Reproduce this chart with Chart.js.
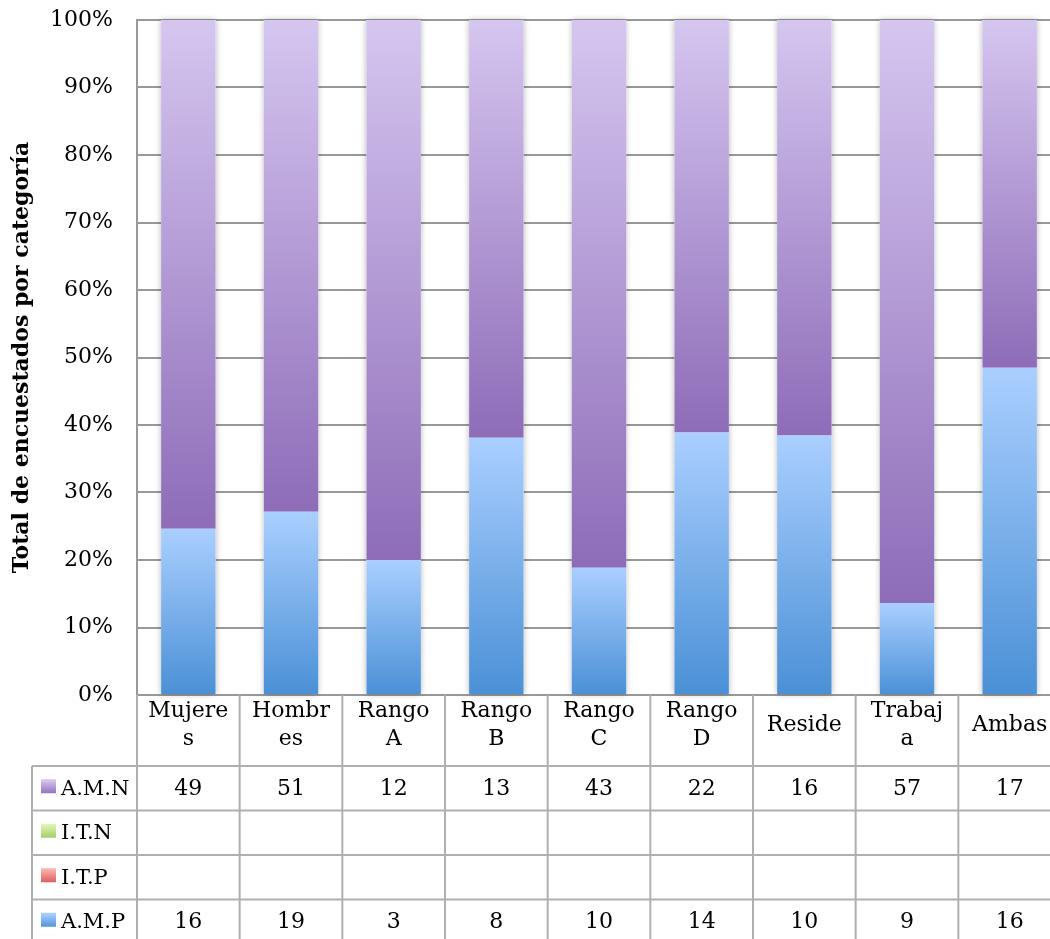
<!DOCTYPE html>
<html>
<head>
<meta charset="utf-8">
<script src="https://cdn.jsdelivr.net/npm/chart.js@4"></script>
<style>
html, body { margin: 0; padding: 0; background: #fff; overflow: hidden; }
canvas { display: block; }
</style>
</head>
<body>
<canvas id="myChart" width="1061" height="939"></canvas>
<script>
var categories = ["Mujeres", "Hombres", "Rango A", "Rango B", "Rango C", "Rango D", "Reside", "Trabaja", "Ambas"];
var tickLabels = [["Mujere", "s"], ["Hombr", "es"], ["Rango", "A"], ["Rango", "B"], ["Rango", "C"], ["Rango", "D"], ["Reside"], ["Trabaj", "a"], ["Ambas"]];
var amn = [49, 51, 12, 13, 43, 22, 16, 57, 17];
var itn = [null, null, null, null, null, null, null, null, null];
var itp = [null, null, null, null, null, null, null, null, null];
var amp = [16, 19, 3, 8, 10, 14, 10, 9, 16];
var yTitle = "Total de encuestados por categoría";

var FONT = "'DejaVu Serif', 'Liberation Serif', serif";

// porcentajes (grafico 100% apilado)
function total(i) {
    return (amn[i] || 0) + (itn[i] || 0) + (itp[i] || 0) + (amp[i] || 0);
}
function pct(serie) {
    return serie.map(function (v, i) { return v == null ? null : v / total(i) * 100; });
}

function barGradient(top, bottom) {
    return function (c) {
        var chart = c.chart, y = chart.scales.y;
        if (c.type !== 'data' || !chart.chartArea || !y) return bottom;
        var i = c.dataIndex, d = c.datasetIndex;
        var base = 0;
        for (var k = 0; k < d; k++) base += chart.data.datasets[k].data[i] || 0;
        var val = chart.data.datasets[d].data[i] || 0;
        var y0 = y.getPixelForValue(base + val), y1 = y.getPixelForValue(base);
        if (!isFinite(y0) || !isFinite(y1) || y1 - y0 < 1) return bottom;
        var g = chart.ctx.createLinearGradient(0, y0, 0, y1);
        g.addColorStop(0, top);
        g.addColorStop(1, bottom);
        return g;
    };
}

// filas de la tabla (arriba -> abajo)
var rows = [
    { name: "A.M.N", values: amn, top: "#d5c6f0", bottom: "#8e6cb8" },
    { name: "I.T.N", values: itn, top: "#dff4b8", bottom: "#9fcb5e" },
    { name: "I.T.P", values: itp, top: "#f9b3b1", bottom: "#dd5957" },
    { name: "A.M.P", values: amp, top: "#aacfff", bottom: "#4a90d6" }
];

var shadowPlugin = {
    id: 'barShadow',
    beforeDatasetsDraw: function (chart) {
        var ctx = chart.ctx;
        var mb = chart.getDatasetMeta(0), mt = chart.getDatasetMeta(3);
        for (var i = 0; i < categories.length; i++) {
            var b = mb.data[i], t = mt.data[i];
            if (!b || !t) continue;
            ctx.save();
            ctx.shadowColor = 'rgba(0,0,0,0.28)';
            ctx.shadowBlur = 6;
            ctx.fillStyle = '#ffffff';
            ctx.fillRect(b.x - b.width / 2, t.y, b.width, b.base - t.y);
            ctx.restore();
        }
    }
};

var tablePlugin = {
    id: 'dataTable',
    afterDraw: function (chart) {
        var ctx = chart.ctx, x = chart.scales.x, area = chart.chartArea;
        var colW = x.getPixelForValue(1) - x.getPixelForValue(0);
        var headBottom = area.bottom + 71;
        var rowH = 44.5;
        var legLeft = 32;
        var bottom = chart.height + 10;
        ctx.save();
        ctx.strokeStyle = '#b0b0b0';
        ctx.lineWidth = 2;
        ctx.beginPath();
        for (var r = 0; r < rows.length; r++) {
            var yy = headBottom + r * rowH;
            ctx.moveTo(legLeft, yy);
            ctx.lineTo(chart.width, yy);
        }
        ctx.moveTo(legLeft, headBottom);
        ctx.lineTo(legLeft, bottom);
        ctx.stroke();
        ctx.beginPath();
        for (var i = 0; i <= categories.length; i++) {
            var bx = x.getPixelForValue(0) - colW / 2 + i * colW;
            ctx.moveTo(bx, area.bottom);
            ctx.lineTo(bx, bottom);
        }
        ctx.stroke();

        ctx.fillStyle = '#000';
        ctx.textBaseline = 'middle';
        for (var r = 0; r < rows.length; r++) {
            var row = rows[r];
            var cy = headBottom + r * rowH + rowH / 2;
            var g = ctx.createLinearGradient(0, cy - 8, 0, cy + 6);
            g.addColorStop(0, row.top);
            g.addColorStop(1, row.bottom);
            ctx.fillStyle = g;
            ctx.fillRect(41, cy - 9, 15, 14);
            ctx.fillStyle = '#000';
            ctx.textAlign = 'left';
            ctx.font = "21px " + FONT;
            ctx.fillText(row.name, 61, cy + 1);
            ctx.textAlign = 'center';
            ctx.font = "22px " + FONT;
            for (var i = 0; i < categories.length; i++) {
                if (row.values[i] == null) continue;
                ctx.fillText(String(row.values[i]), x.getPixelForValue(i), cy + 1);
            }
        }
        ctx.restore();
    }
};

var ctx = document.getElementById("myChart").getContext('2d');
var myChart = new Chart(ctx, {
    type: 'bar',
    data: {
        labels: tickLabels,
        datasets: [
            { label: 'A.M.P', data: pct(amp), backgroundColor: barGradient("#aacfff", "#4a90d6") },
            { label: 'I.T.P', data: pct(itp), backgroundColor: barGradient("#f9b3b1", "#dd5957") },
            { label: 'I.T.N', data: pct(itn), backgroundColor: barGradient("#dff4b8", "#9fcb5e") },
            { label: 'A.M.N', data: pct(amn), backgroundColor: barGradient("#d5c6f0", "#8e6cb8") }
        ]
    },
    options: {
        responsive: false,
        animation: false,
        devicePixelRatio: 1,
        layout: { padding: { top: 20, left: 0, right: 0, bottom: 173 } },
        datasets: { bar: { categoryPercentage: 1, barPercentage: 0.53, borderWidth: 0 } },
        plugins: {
            legend: { display: false },
            tooltip: { enabled: false }
        },
        scales: {
            x: {
                stacked: true,
                grid: { display: false },
                border: { display: true, color: '#999999', width: 2 },
                ticks: {
                    color: '#000',
                    font: { family: FONT, size: 22, lineHeight: 1.3 },
                    padding: 8,
                    crossAlign: 'center',
                    maxRotation: 0,
                    minRotation: 0,
                    autoSkip: false
                },
                afterFit: function (s) { s.height = 71; }
            },
            y: {
                stacked: true,
                min: 0,
                max: 100,
                grid: { color: '#999999', lineWidth: 2, drawTicks: true, tickLength: 24, tickColor: 'rgba(0,0,0,0)' },
                border: { display: true, color: '#999999', width: 2 },
                ticks: {
                    stepSize: 10,
                    color: '#000',
                    padding: 0,
                    font: { family: FONT, size: 22 },
                    callback: function (v) { return v + '%'; }
                },
                title: {
                    display: true,
                    text: yTitle,
                    color: '#000',
                    padding: { top: 9, bottom: 0 },
                    font: { family: FONT, size: 22, weight: 'bold' }
                },
                afterFit: function (s) { s.width = 137; }
            }
        }
    },
    plugins: [shadowPlugin, tablePlugin]
});
</script>
</body>
</html>
